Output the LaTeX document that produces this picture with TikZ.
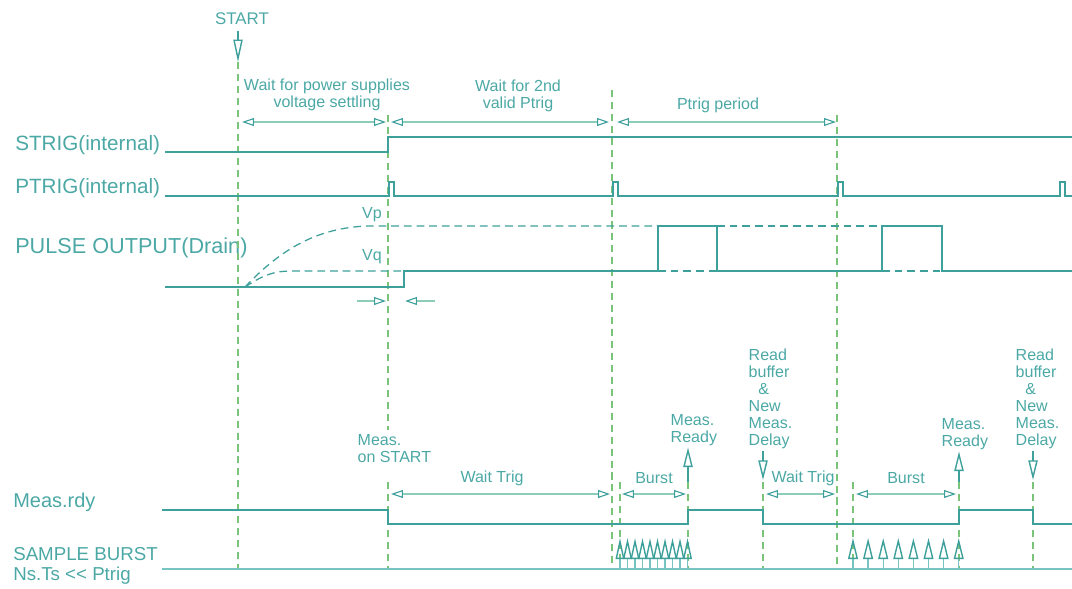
\documentclass[tikz,border=0pt]{standalone}
\usepackage{fontspec}
\setmainfont{Liberation Sans}
\usetikzlibrary{arrows.meta}

\definecolor{sigc}{RGB}{62,160,155}
\definecolor{txtc}{RGB}{75,168,165}
\definecolor{guidec}{RGB}{122,196,122}
\definecolor{dimc}{RGB}{140,205,185}
\definecolor{basec}{RGB}{120,196,192}

\begin{document}
\begin{tikzpicture}[
    x=0.025cm, y=-0.025cm,
    sig/.style={draw=sigc, line width=1.8pt},
    level/.style={draw=sigc, line width=0.9pt, dash pattern=on 5.5pt off 3.5pt},
    guide/.style={draw=guidec, line width=0.9pt, dash pattern=on 5pt off 3.5pt},
    dimtip/.tip={Triangle[open, length=8.5pt, width=5.6pt, color=sigc]},
    dimline/.style={draw=dimc, line width=0.8pt, dimtip-dimtip},
    halfdim/.style={draw=dimc, line width=0.8pt, -dimtip},
    event/.style={draw=sigc, line width=1pt, -{Triangle[open, length=14pt, width=6.6pt]}},
    shot/.style={draw=basec, line width=1pt, -{Triangle[open, length=15pt, width=7pt, color=sigc]}},
    siglabel/.style={font=\fontsize{14.7}{17}\selectfont, text=txtc, anchor=west, inner sep=0pt},
    note/.style={font=\fontsize{11.4}{12.1}\selectfont, text=txtc, align=center, inner sep=1pt},
    leftnote/.style={note, align=left, anchor=west}
]
\useasboundingbox (0,0) rectangle (1072,588);

% Signal names
\node[siglabel] (strig) at (15,145) {STRIG(internal)};
\node[siglabel] (ptrig) at (15,188) {PTRIG(internal)};
\node[siglabel, font=\fontsize{15.4}{17}\selectfont] (pulse) at (15,248) {PULSE OUTPUT(Drain)};
\node[siglabel, font=\fontsize{14.2}{17}\selectfont] (measrdy) at (13,502) {Meas.rdy};
\node[siglabel, align=left, font=\fontsize{13.3}{14.2}\selectfont] (sample) at (13,566) {SAMPLE BURST\\Ns.Ts <\kern0pt< Ptrig};

% Time marks
\coordinate (t0) at (238,62);
\node[note, font=\fontsize{12}{14}\selectfont] (start) at (242,19) {START};
\draw[event, -{Triangle[open, length=16pt, width=6.6pt]}] (t0 |- start.south) ++(0,4) -- (t0);
\draw[guide] (t0) -- (238,569);
\draw[guide] (388,115) -- (388,430);
\draw[guide] (388,482) -- (388,569);
\draw[guide] (612,90) -- (612,569);
\draw[guide] (837,115) -- (837,569);
\foreach \gx in {620,688,763,853,959,1033}
    \draw[guide] (\gx,482) -- (\gx,569);

% Top intervals
\node[note] (waitps) at (327,95) {Wait for power supplies\\voltage settling};
\draw[dimline] (242,122) -- (386,122);
\node[note] (wait2nd) at (518,96) {Wait for 2nd\\valid Ptrig};
\draw[dimline] (391,122) -- (609,122);
\node[note] (tperiod) at (718,105) {Ptrig period};
\draw[dimline] (617,122) -- (836,122);

% Waveforms
\draw[sig] (165,152) -- (388,152) -- (388,137) -- (1072,137);
\draw[sig] (165,196) -- (389,196) -- (389,182) -- (394,182) -- (394,196)
    -- (613,196) -- (613,182) -- (618,182) -- (618,196)
    -- (838,196) -- (838,182) -- (843,182) -- (843,196)
    -- (1060,196) -- (1060,182) -- (1065,182) -- (1065,196) -- (1072,196);
\draw[sig] (165,287) -- (404,287) -- (404,271) -- (658,271) -- (658,226)
    -- (717,226) -- (717,271) -- (882,271) -- (882,226) -- (942,226)
    -- (942,271) -- (1072,271);

% Supply settling levels
\draw[level] (245,287) .. controls (282,248) and (318,228) .. (367,226) -- (658,226);
\draw[level] (717,226) -- (882,226);
\draw[level] (245,287) .. controls (262,276) and (272,271) .. (292,271) -- (404,271);
\draw[level] (658,271) -- (717,271);
\draw[level] (882,271) -- (942,271);
\node[note] (vp) at (372,215) {Vp};
\node[note] (vq) at (372,257) {Vq};
\draw[halfdim] (357,301) -- (386,301);
\draw[halfdim] (435,301) -- (405,301);

% Measurement ready
\draw[sig] (162,510) -- (388,510) -- (388,524) -- (688,524) -- (688,510)
    -- (763,510) -- (763,524) -- (959,524) -- (959,510) -- (1033,510)
    -- (1033,524) -- (1072,524);
\node[leftnote] (measstart) at (356,449) {Meas.\\on START};
\node[note] (waittrig1) at (492,478) {Wait Trig};
\draw[dimline] (391,494) -- (610,494);
\node[note] (burst1) at (654,478) {Burst};
\draw[dimline] (622,494) -- (686,494);
\node[note] (waittrig2) at (803,478) {Wait Trig};
\draw[dimline] (766,494) -- (835,494);
\node[note] (burst2) at (906,478) {Burst};
\draw[dimline] (856,494) -- (956,494);

\node[leftnote] (ready1) at (669,430) {Meas.\\Ready};
\draw[event] (688,482) -- (ready1.south -| 688,0);
\node[leftnote] (ready2) at (940,434) {Meas.\\Ready};
\draw[event] (959,482) -- (ready2.south -| 959,0);
\node[leftnote] (readbuf1) at (747,399) {Read\\buffer\\\hspace{0.6em}\&\\New\\Meas.\\Delay};
\draw[event] (readbuf1.south -| 763,0) -- (763,480);
\node[leftnote] (readbuf2) at (1014,399) {Read\\buffer\\\hspace{0.6em}\&\\New\\Meas.\\Delay};
\draw[event] (readbuf2.south -| 1033,0) -- (1033,480);

% Sample bursts
\draw[draw=basec, line width=1.2pt] (162,569) -- (1072,569);
\foreach \i in {0,...,9}
    \draw[shot, -{Triangle[open, length=15pt, width=6.2pt, color=sigc]}] (620+7.5*\i,569) -- ++(0,-31);
\foreach \i in {0,...,7}
    \draw[shot] (853+15.1*\i,569) -- ++(0,-31);

\end{tikzpicture}
\end{document}
